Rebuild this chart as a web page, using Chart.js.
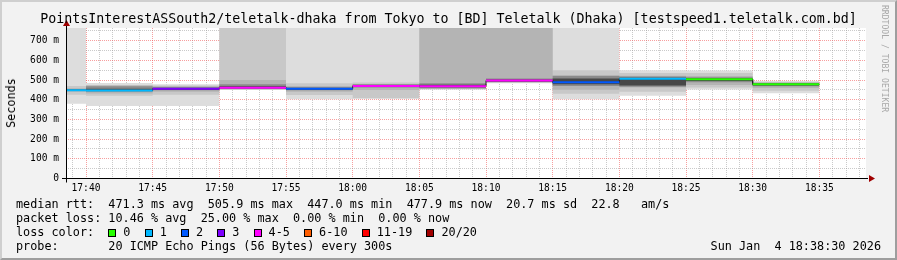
<!DOCTYPE html>
<html>
<head>
<meta charset="utf-8">
<script src="https://cdn.jsdelivr.net/npm/chart.js@4/dist/chart.umd.min.js"></script>
<style>
  html, body { margin: 0; padding: 0; background: #f2f2f2; }
  #wrap { position: relative; width: 897px; height: 260px; background: #f2f2f2; overflow: hidden;
          font-family: "DejaVu Sans Mono", monospace; color: #000; }
  #wrap canvas { position: absolute; left: 0; top: 0; }
  .txt { position: absolute; white-space: pre; font-size: 11.8px; line-height: 14px; }
  #title { left: 0; width: 897px; top: 12px; text-align: center; font-size: 13.3px; }
  #ylab { left: 11px; top: 103px; transform: translate(-50%, -50%) rotate(-90deg); }
  #mark { left: 880px; top: 5px; writing-mode: vertical-rl; font-size: 8.1px; line-height: 10px; color: #a8a8a8; }
  #date { right: 16px; top: 239px; }
  .box { display: inline-block; width: 8px; height: 8px; border: 1px solid #000; box-sizing: border-box;
         margin-right: 7px; vertical-align: -1px; }
  #shade { position: absolute; left: 0; top: 0; width: 897px; height: 260px; box-sizing: border-box;
           border-top: 2px solid #cfcfcf; border-left: 2px solid #cfcfcf;
           border-right: 2px solid #9e9e9e; border-bottom: 2px solid #9e9e9e; pointer-events: none; }
</style>
</head>
<body>
<div id="wrap">
  <canvas id="smokeChart" width="897" height="260"></canvas>
  <div id="title" class="txt">PointsInterestASSouth2/teletalk-dhaka from Tokyo to [BD] Teletalk (Dhaka) [testspeed1.teletalk.com.bd]</div>
  <div id="ylab" class="txt">Seconds</div>
  <div id="mark" class="txt">RRDTOOL / TOBI OETIKER</div>
  <div id="legend"></div>
  <div id="date" class="txt">Sun Jan  4 18:38:30 2026</div>
  <div id="shade"></div>
</div>
<script>
// time window and 5 minute steps (each value covers the 5 minutes ending at its label)
const startTime = '17:38:30';
const endTime = '18:38:30';
const stepEnds = ['17:40', '17:45', '17:50', '17:55', '18:00', '18:05', '18:10', '18:15', '18:20', '18:25', '18:30', '18:35'];

// median rtt (ms) and lost pings out of 20 per step
const medianRtt = [448, 447, 455, 461, 455, 469, 468, 497, 489, 506, 504, 478];
const lossCount = [1, 1, 3, 4, 2, 4, 5, 4, 2, 1, 0, 0];

// smoke: ping spread bands, outermost first (800 = above the top of the graph)
const smoke1Lo = [380, 368, 368, 449, 402, 405, 452, 484, 402, 420, 452, 433];
const smoke1Hi = [800, 485, 478, 800, 800, 800, 800, 800, 800, 550, 548, 495];
const smoke2Lo = [425, 420, 425, 452, 424, 407, 453, 486, 430, 440, 462, 445];
const smoke2Hi = [470, 475, 472, 800, 483, 487, 800, 800, 550, 535, 535, 490];
const smoke3Lo = [440, 432, 440, 453, 440, 449, 455, 488, 450, 462, 475, 460];
const smoke3Hi = [458, 472, 468, 500, 470, 480, 800, 800, 525, 522, 520, 487];
const smoke4Lo = [444, 440, 448, 455, 448, 462, 458, 490, 470, 466, 488, 468];
const smoke4Hi = [453, 468, 465, 478, 465, 478, 483, 508, 520, 518, 514, 484];
const smoke5Lo = [446, 444, 452, 458, 452, 465, 463, 493, 478, 472, 495, 472];
const smoke5Hi = [451, 456, 460, 468, 460, 474, 476, 503, 508, 512, 508, 482];

// loss colour legend
const lossLabels = ['0', '1', '2', '3', '4-5', '6-10', '11-19', '20/20'];
const lossUpper = [0, 1, 2, 3, 5, 10, 19, 20];
const lossColors = ['#26ff00', '#00b8ff', '#0059ff', '#7e00ff', '#ff00ff', '#ff5e00', '#ff0000', '#a10000'];

const yMax = 764;
const smokeShades = ['#dddddd', '#c8c8c8', '#b4b4b4', '#8a8a8a', '#474747'];

const toMin = s => {
    const p = s.split(':').map(Number);
    return p[0] * 60 + p[1] + (p[2] || 0) / 60;
};
const fmtMin = m => String(Math.floor(m / 60)).padStart(2, '0') + ':' + String(m % 60).padStart(2, '0');
const lossColor = n => lossColors[lossUpper.findIndex(u => n <= u)];

const xMin = toMin(startTime);
const xMax = toMin(endTime);
const stepStart = stepEnds.map(t => Math.max(xMin, toMin(t) - 5));
const stepStop = stepEnds.map(toMin);

// two points per step -> flat tops, vertical edges between steps
const stepSeries = arr => arr.flatMap((v, i) => [{ x: stepStart[i], y: v }, { x: stepStop[i], y: v }]);

// build datasets
const datasets = [];
const bands = [[smoke1Lo, smoke1Hi], [smoke2Lo, smoke2Hi], [smoke3Lo, smoke3Hi], [smoke4Lo, smoke4Hi], [smoke5Lo, smoke5Hi]];
bands.forEach((b, k) => {
    const loIdx = datasets.length;
    datasets.push({ data: stepSeries(b[0]), borderColor: 'transparent', borderWidth: 1, fill: false, order: 20 - k });
    datasets.push({ data: stepSeries(b[1]), borderColor: 'transparent', borderWidth: 1,
        backgroundColor: smokeShades[k], fill: loIdx, order: 20 - k });
});
datasets.push({ data: stepSeries(medianRtt), borderColor: '#202020', borderWidth: 1, fill: false, order: 2 });
datasets.push({
    data: medianRtt.flatMap((v, i) => [{ x: stepStart[i], y: v }, { x: stepStop[i], y: v }, { x: stepStop[i], y: null }]),
    borderWidth: 2, fill: false, spanGaps: false, order: 1,
    borderColor: lossColor(0),
    segment: { borderColor: c => lossColor(lossCount[Math.floor(c.p0DataIndex / 3)]) }
});

// white canvas + axis lines with arrows, rrdtool style
const rrdFrame = {
    id: 'rrdFrame',
    beforeDraw(chart) {
        const { ctx, chartArea: a } = chart;
        ctx.save();
        ctx.fillStyle = '#ffffff';
        ctx.fillRect(a.left, a.top, a.right - a.left, a.bottom - a.top);
        ctx.restore();
    },
    afterDraw(chart) {
        const { ctx, chartArea: a } = chart;
        const x0 = a.left + 0.5, y0 = a.bottom;
        ctx.save();
        ctx.strokeStyle = '#000';
        ctx.lineWidth = 1;
        ctx.beginPath();
        ctx.moveTo(a.left - 4, y0); ctx.lineTo(a.right + 2, y0);
        ctx.moveTo(x0, y0 + 4); ctx.lineTo(x0, a.top - 2);
        ctx.stroke();
        ctx.fillStyle = '#a00000';
        ctx.beginPath();
        ctx.moveTo(a.right + 9, y0); ctx.lineTo(a.right + 3, y0 - 3.5); ctx.lineTo(a.right + 3, y0 + 3.5);
        ctx.closePath(); ctx.fill();
        ctx.beginPath();
        ctx.moveTo(x0, a.top - 8); ctx.lineTo(x0 - 3.5, a.top - 2); ctx.lineTo(x0 + 3.5, a.top - 2);
        ctx.closePath(); ctx.fill();
        ctx.restore();
    }
};

const majorGrid = 'rgba(240, 80, 80, 0.55)';
const minorGrid = 'rgba(150, 150, 150, 0.5)';

new Chart(document.getElementById('smokeChart'), {
    type: 'line',
    data: { datasets },
    plugins: [rrdFrame],
    options: {
        responsive: false,
        animation: false,
        devicePixelRatio: 1,
        layout: { padding: { left: 0, right: 31, top: 28, bottom: 0 } },
        plugins: { legend: { display: false }, tooltip: { enabled: false } },
        elements: { point: { radius: 0 }, line: { tension: 0 } },
        scales: {
            x: {
                type: 'linear', min: xMin, max: xMax, z: 1,
                afterBuildTicks: s => {
                    const t = [];
                    for (let m = Math.ceil(xMin); m < xMax; m++) t.push({ value: m });
                    s.ticks = t;
                },
                afterFit: s => { s.height = 81.5; },
                ticks: {
                    autoSkip: false, maxRotation: 0, padding: 4, color: '#000',
                    font: { family: 'DejaVu Sans Mono', size: 9.6 },
                    callback: v => (v % 5 === 0 ? fmtMin(v) : '')
                },
                grid: { drawTicks: false, color: c => (c.tick && c.tick.value % 5 === 0 ? majorGrid : minorGrid) },
                border: { display: false, dash: [1, 1] }
            },
            y: {
                min: 0, max: yMax, z: 1,
                afterBuildTicks: s => {
                    const t = [];
                    for (let v = 0; v <= yMax; v += 50) t.push({ value: v });
                    s.ticks = t;
                },
                afterFit: s => { s.width = 66; },
                ticks: {
                    autoSkip: false, padding: 7, color: '#000',
                    font: { family: 'DejaVu Sans Mono', size: 9.6 },
                    callback: v => (v % 100 !== 0 ? '' : (v === 0 ? '0' : v + ' m'))
                },
                grid: { drawTicks: false, color: c => (c.tick && c.tick.value % 100 === 0 ? majorGrid : minorGrid) },
                border: { display: false, dash: [1, 1] }
            }
        }
    }
});

// text legend below the graph
const legend = document.getElementById('legend');
const row = (top, html) => {
    const d = document.createElement('div');
    d.className = 'txt';
    d.style.left = '16px';
    d.style.top = top + 'px';
    d.innerHTML = html;
    legend.appendChild(d);
};
row(197, 'median rtt:  471.3 ms avg  505.9 ms max  447.0 ms min  477.9 ms now  20.7 ms sd  22.8   am/s');
row(211, 'packet loss: 10.46 % avg  25.00 % max  0.00 % min  0.00 % now');
row(225, 'loss color:  ' + lossLabels.map((l, i) =>
    `<span class="box" style="background:${lossColors[i]}"></span>${l}`).join('  '));
row(239, 'probe:       20 ICMP Echo Pings (56 Bytes) every 300s');
</script>
</body>
</html>
